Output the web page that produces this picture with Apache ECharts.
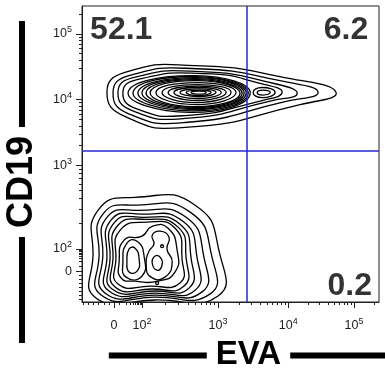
<!DOCTYPE html>
<html>
<head>
<meta charset="utf-8">
<script src="https://cdn.jsdelivr.net/npm/echarts@6.0.0/dist/echarts.min.js"></script>
<style>
  html, body { margin: 0; padding: 0; background: #fff; }
  #chart { width: 385px; height: 371px; }
</style>
</head>
<body>
<div id="chart"></div>
<script>
// channel scale 0..1024 on both axes (logicle display)
const AXIS_MAX = 1024;

const xTickValues = [110, 207, 469, 711, 938];
const xTickLabels = ["0", "10{s|2}", "10{s|3}", "10{s|4}", "10{s|5}"];
const yTickValues = [107, 184, 473, 700, 928];
const yTickLabels = ["0", "10{s|2}", "10{s|3}", "10{s|4}", "10{s|5}"];

// quadrant gate (EVA, CD19) in channels
const gateX = 569;
const gateY = 524;

const quadrantLabels = ["52.1", "6.2", "0.2"];
const quadrantPos = [[28, 940], [987, 940], [1000, 55]];
const quadrantAlign = ["left", "right", "right"];

// contour rings, [EVA, CD19] channels
const upperRings = [
  [[86, 725], [148, 794], [390, 818], [718, 773], [876, 725], [752, 683], [355, 604], [148, 642]],
  [[107, 725], [162, 783], [397, 807], [700, 762], [814, 725], [700, 693], [355, 621], [159, 652]],
  [[124, 725], [176, 776], [407, 797], [666, 755], [742, 721], [656, 697], [355, 635], [173, 662]],
  [[141, 725], [190, 769], [424, 790], [631, 752], [690, 725], [621, 697], [355, 645], [186, 669]],
  [[159, 725], [390, 783], [580, 721], [373, 656]],
  [[176, 725], [393, 780], [573, 721], [376, 661]],
  [[193, 725], [397, 776], [566, 721], [380, 666]],
  [[207, 725], [397, 773], [559, 721], [383, 669]],
  [[221, 725], [397, 769], [552, 721], [383, 673]],
  [[235, 725], [397, 766], [545, 721], [386, 676]],
  [[255, 725], [397, 759], [531, 725], [393, 683]],
  [[276, 725], [397, 752], [514, 725], [393, 690]],
  [[297, 725], [400, 747], [497, 725], [397, 697]],
  [[317, 725], [400, 742], [480, 725], [397, 704]],
  [[338, 725], [404, 737], [462, 725], [400, 711]],
  [[359, 725], [404, 733], [445, 725], [400, 714]],
  [[376, 725], [404, 730], [428, 725], [404, 719]],
  [[590, 725], [621, 742], [666, 725], [621, 707]],
  [[604, 725], [624, 733], [649, 725], [624, 716]],
];

const lowerRings = [
  [[38, 162], [55, 317], [183, 362], [390, 335], [476, 162], [469, 21], [252, 7], [48, 14]],
  [[59, 162], [72, 304], [190, 335], [373, 311], [449, 152], [442, 28], [252, 17], [66, 24]],
  [[72, 162], [86, 293], [197, 317], [359, 293], [421, 152], [414, 35], [252, 24], [79, 31]],
  [[86, 155], [100, 283], [204, 304], [348, 279], [397, 152], [390, 41], [252, 31], [93, 38]],
  [[97, 152], [110, 273], [210, 293], [338, 269], [376, 152], [369, 48], [252, 38], [104, 45]],
  [[107, 152], [121, 262], [217, 286], [331, 259], [359, 152], [352, 55], [242, 45], [114, 52]],
  [[117, 148], [131, 248], [224, 276], [321, 255], [345, 148], [338, 66], [235, 55], [124, 62]],
  [[128, 138], [145, 214], [207, 228], [242, 262], [297, 255], [328, 179], [321, 104], [262, 72], [183, 72], [135, 83]],
  [[141, 138], [155, 204], [190, 210], [214, 159], [207, 90], [152, 86]],
  [[155, 141], [162, 183], [183, 186], [197, 148], [190, 107], [162, 104]],
  [[221, 131], [231, 176], [248, 200], [242, 231], [269, 245], [300, 224], [293, 183], [311, 138], [286, 86], [238, 86]],
  [[242, 135], [252, 159], [269, 155], [276, 128], [259, 110]],
  [[271, 193], [276, 198], [281, 193], [276, 188]],
  [[254, 66], [259, 71], [264, 66], [259, 60]],
];

const FONT = "Liberation Sans, Arial, sans-serif";
const contourRings = upperRings.concat(lowerRings);

// minor ticks: linear below zero, log steps inside each decade
function minorTicks(major) {
  const [p0, p2, p3, p4, p5] = major;
  const span = p2 - p0;
  const out = [];
  for (let v = p0 - span * 0.18; v > 0; v -= span * 0.18) out.push(v);
  const p1 = p0 + span * 0.2;
  out.push(p1);
  for (let k = 2; k <= 9; k++) out.push(p1 + Math.log10(k) * (p2 - p1));
  const dec = [p2, p3, p4, p5];
  for (let i = 0; i < 3; i++) {
    for (let k = 2; k <= 9; k++) out.push(dec[i] + Math.log10(k) * (dec[i + 1] - dec[i]));
  }
  for (let k = 2; k <= 9; k++) {
    const v = p5 + Math.log10(k) * (p5 - p4);
    if (v < AXIS_MAX) out.push(v);
  }
  return out;
}

const tickLabelStyle = (ticks, labels, margin) => ({
  show: true,
  customValues: ticks,
  formatter: (v) => labels[ticks.indexOf(v)],
  margin: margin,
  color: "#222",
  fontSize: 12.5,
  fontFamily: FONT,
  lineHeight: 17,
  rich: { s: { fontSize: 9, lineHeight: 17, verticalAlign: "top", color: "#222", fontFamily: FONT } },
});

const titleRich = (barLen, size) => ({
  bar: { width: barLen, height: 6, backgroundColor: "#000" },
  t: { fontSize: size, fontWeight: "bold", color: "#000", fontFamily: FONT, padding: [0, 9] },
});

const chart = echarts.init(document.getElementById("chart"), null, { renderer: "canvas" });

chart.setOption({
  animation: false,
  backgroundColor: "#fff",
  grid: {
    left: 82,
    top: 6,
    width: 297,
    height: 296,
    containLabel: false,
    outerBoundsMode: "none",
    show: true,
    borderColor: "#222",
    borderWidth: 1,
  },
  xAxis: [
    {
      type: "value",
      min: 0,
      max: AXIS_MAX,
      position: "bottom",
      axisLine: { show: true, lineStyle: { color: "#222" } },
      axisTick: { show: true, length: 6, customValues: xTickValues, lineStyle: { color: "#222" } },
      axisLabel: tickLabelStyle(xTickValues, xTickLabels, 15),
      splitLine: { show: false },
      name: "{bar| }{t|EVA}{bar| }",
      nameLocation: "middle",
      nameGap: 32,
      nameTextStyle: { rich: titleRich(98, 33), padding: [0, 0, 0, 36] },
    },
    {
      type: "value",
      min: 0,
      max: AXIS_MAX,
      position: "bottom",
      axisLine: { show: false },
      axisTick: { show: true, length: 3, customValues: minorTicks(xTickValues), lineStyle: { color: "#222" } },
      axisLabel: { show: false },
      splitLine: { show: false },
    },
  ],
  yAxis: [
    {
      type: "value",
      min: 0,
      max: AXIS_MAX,
      position: "left",
      axisLine: { show: true, lineStyle: { color: "#222" } },
      axisTick: { show: true, length: 6, customValues: yTickValues, lineStyle: { color: "#222" } },
      axisLabel: tickLabelStyle(yTickValues, yTickLabels, 10),
      splitLine: { show: false },
      name: "{bar| }{t|CD19}{bar| }",
      nameLocation: "middle",
      nameRotate: 90,
      nameGap: 42,
      nameTextStyle: { rich: titleRich(106, 36), padding: [0, 56, 0, 0] },
    },
    {
      type: "value",
      min: 0,
      max: AXIS_MAX,
      position: "left",
      axisLine: { show: false },
      axisTick: { show: true, length: 3, customValues: minorTicks(yTickValues), lineStyle: { color: "#222" } },
      axisLabel: { show: false },
      splitLine: { show: false },
    },
  ],
  series: [
    {
      type: "custom",
      clip: true,
      silent: true,
      data: contourRings.map((ring) => ring[0]),
      renderItem: (params, api) => {
        const ring = contourRings[params.dataIndex];
        return {
          type: "polygon",
          shape: { points: ring.map((p) => api.coord(p)), smooth: 0.55 },
          style: { fill: "none", stroke: "#000", lineWidth: 1.3 },
        };
      },
    },
    {
      type: "line",
      data: [],
      markLine: {
        silent: true,
        symbol: ["none", "none"],
        label: { show: false },
        lineStyle: { color: "#2626d2", width: 1.5, type: "solid" },
        data: [{ xAxis: gateX }, { yAxis: gateY }],
      },
    },
    {
      type: "scatter",
      symbolSize: 1,
      itemStyle: { color: "rgba(0,0,0,0)" },
      silent: true,
      data: quadrantPos.map((p, i) => ({
        value: p,
        label: { align: quadrantAlign[i], formatter: quadrantLabels[i] },
      })),
      label: {
        show: true,
        position: "inside",
        verticalAlign: "middle",
        fontSize: 32,
        fontWeight: "bold",
        color: "#000",
        fontFamily: FONT,
      },
    },
  ],
});
</script>
</body>
</html>
